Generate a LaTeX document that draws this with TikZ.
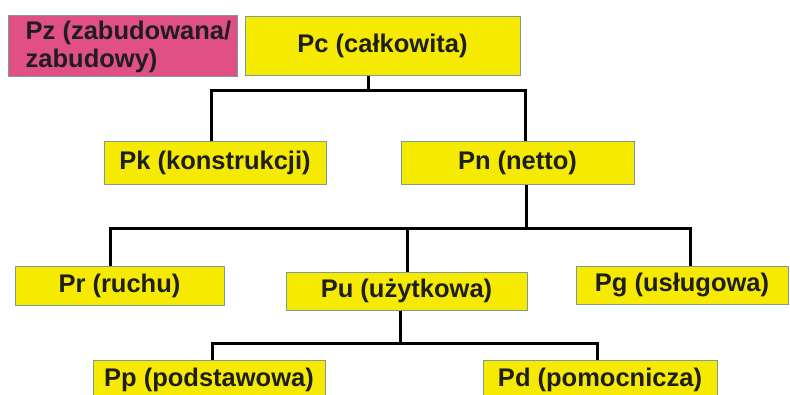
\documentclass[tikz,border=0pt]{standalone}
\usepackage{fontspec}
\setmainfont{Liberation Sans}
\usetikzlibrary{calc}
\definecolor{boxyellow}{RGB}{245,234,0}
\definecolor{boxpink}{RGB}{224,80,132}
\definecolor{boxedge}{RGB}{125,155,150}
\definecolor{inkgray}{RGB}{30,30,30}

\begin{document}
\begin{tikzpicture}[x=1pt, y=-1pt,
    every node/.style={font=\fontsize{25.5}{28}\selectfont\bfseries, text=inkgray},
    areabox/.style={draw=boxedge, line width=1pt, fill=boxyellow, inner sep=0pt},
    zonebox/.style={areabox, fill=boxpink},
    tree/.style={black, line width=3pt}]

\useasboundingbox (0,0) rectangle (790,394);

% Top row
\node[zonebox, minimum width=229, minimum height=61] (pz) at (122.5,45.5) {};
\node[anchor=west, inner sep=0pt, align=left] (pztext) at ([xshift=18,yshift=-1] pz.west)
    {Pz (zabudowana/\\zabudowy)};
\node[areabox, minimum width=275, minimum height=59] (pc) at (382.5,45.5) {Pc (całkowita)};

% Second row
\node[areabox, minimum width=222, minimum height=43] (pk) at (215,162.5) {Pk (konstrukcji)};
\node[areabox, minimum width=233, minimum height=43] (pn) at (517.5,162.5) {Pn (netto)};

% Third row
\node[areabox, minimum width=209, minimum height=39] (pr) at (119.5,285.5) {Pr (ruchu)};
\node[areabox, minimum width=241, minimum height=38] (pu) at (406.5,291) {Pu (użytkowa)};
\node[areabox, minimum width=212, minimum height=38] (pg) at (682,285) {Pg (usługowa)};

% Bottom row
\node[areabox, minimum width=232, minimum height=40] (pp) at (209,380) {Pp (podstawowa)};
\node[areabox, minimum width=234, minimum height=40] (pd) at (600,380) {Pd (pomocnicza)};

% Junction points
\coordinate (c0) at (368,90);
\coordinate (c1) at (211,90);
\coordinate (c2) at (525,90);
\coordinate (n0) at (526,228);
\coordinate (n1) at (110,228);
\coordinate (n2) at (407,228);
\coordinate (n3) at (690,228);
\coordinate (u0) at (400,343);
\coordinate (u1) at (212,343);
\coordinate (u2) at (597,343);

% Black lines
\draw[tree] (pc.south -| c0) -- (c0);
\draw[tree] (pk.north -| c1) -- (c1) -- (c2) -- (pn.north -| c2);
\draw[tree] (pn.south -| n0) -- (n0);
\draw[tree] (pr.north -| n1) -- (n1) -- (n3) -- (pg.north -| n3);
\draw[tree] (n2) -- (pu.north -| n2);
\draw[tree] (pu.south -| u0) -- (u0);
\draw[tree] (pp.north -| u1) -- (u1) -- (u2) -- (pd.north -| u2);

\end{tikzpicture}
\end{document}
